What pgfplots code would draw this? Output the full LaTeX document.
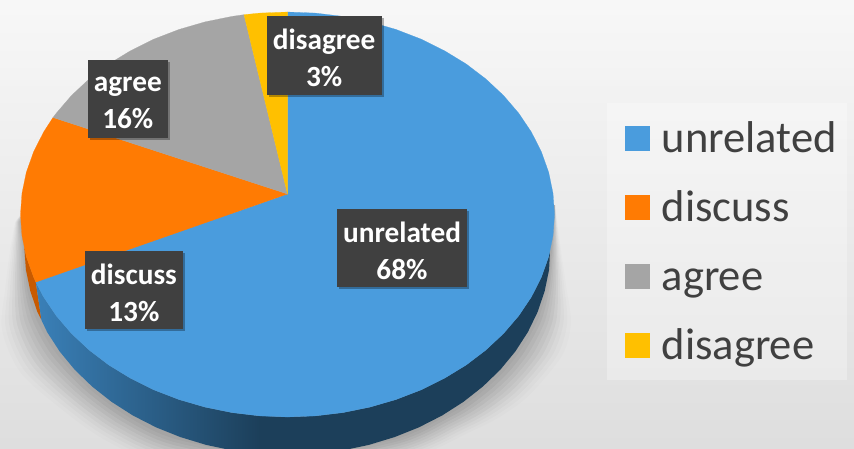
\documentclass[border=0pt]{standalone}
\usepackage{pgfplots}
\pgfplotsset{compat=1.18}
\usepackage{fontspec}
\setmainfont{Carlito}
\usetikzlibrary{shadows}
\definecolor{cUnrel}{HTML}{4A9CDD}
\definecolor{cDisc}{HTML}{FF7B03}
\definecolor{cAgree}{HTML}{A5A5A5}
\definecolor{cDisag}{HTML}{FFC000}
\definecolor{cSideA}{HTML}{3A80B8}
\definecolor{cSideB}{HTML}{1C3F5A}
\definecolor{cDiscSide}{HTML}{C85A00}
\definecolor{cBox}{HTML}{404040}
\tikzset{
  labbox/.style={fill=cBox,inner sep=0pt,
    drop shadow={shadow xshift=2bp,shadow yshift=-2bp,opacity=.3,fill=black}},
  labtext/.style={text=white,inner sep=0pt,align=center,
    font=\fontsize{29.4}{37}\selectfont\bfseries}}
\pgfplotsset{shadowlayer/.style={smooth,draw=none,fill=black,fill opacity=#1,forget plot}}
\begin{document}
\begin{tikzpicture}
\path[use as bounding box] (0,0) rectangle (854bp,449bp);
\begin{axis}[
  scale only axis,width=854bp,height=449bp,
  xmin=0,xmax=854,ymin=0,ymax=449,y dir=reverse,hide axis,
  legend image code/.code={\path[draw=none,fill=none] (0bp,0bp) rectangle (36.5bp,1bp);\fill[#1,draw=none] (0bp,-10.5bp) rectangle (25bp,14.5bp);},
  legend cell align=left,
  legend style={at={(axis cs:625,118)},anchor=north west,draw=none,fill=none,
    font=\fontsize{44.7}{52}\selectfont,text=cBox,inner sep=0pt,
    row sep=25bp,
    nodes={inner sep=0pt,text height=34bp,text depth=10bp}},
]
% background
\addplot[forget plot,draw=none,top color=white!97!black,bottom color=white!87!black] coordinates {(0,0)(854,0)(854,449)(0,449)} -- cycle;
% legend panel
\addplot[forget plot,draw=none,fill=white,fill opacity=.3] coordinates {(607,103)(847,103)(847,380)(607,380)} -- cycle;
% soft shadow layers
\addplot[shadowlayer=.035] coordinates {(555,205)(552,250)(548,285)(537.7,320.2)(519.9,351.1)(504.5,370.8)(487.1,387.4)(466.5,403.6)(444.8,416.7)(395.6,439.1)(287,457.5)(178.5,439.8)(129.3,417.5)(88.8,388.2)(56,353.1)(37.1,321)(27.5,290.9)(23.5,250)(19.5,215.7)};
\addplot[shadowlayer=.035] coordinates {(555,205)(553,250)(550,285)(541.4,320.4)(524.8,351.2)(509,371.6)(491.2,388.8)(470,405.2)(447.6,418.4)(397.2,441.2)(287,460)(177,442.6)(126.6,420)(85.6,390.4)(52,355.2)(33.2,322)(25,290.8)(22,250)(19,216.4)};
\addplot[shadowlayer=.035] coordinates {(555,205)(554,250)(552,285)(545.1,320.6)(529.7,351.3)(513.5,372.4)(495.3,390.2)(473.5,406.8)(450.4,420.1)(398.8,443.3)(287,462.5)(175.5,445.4)(123.9,422.5)(82.4,392.6)(48,357.3)(29.3,323)(22.5,290.7)(20.5,250)(18.5,217.1)};
\addplot[shadowlayer=.035] coordinates {(555,205)(555,250)(554,285)(548.8,320.8)(534.6,351.4)(518,373)(499.4,391.6)(477,408.4)(453.2,421.8)(400.4,445.4)(287,465)(174,448.2)(121.2,425)(79.2,394.8)(44,359.4)(25.4,324)(20,290.4)(19,250)(18,217.8)};
\addplot[shadowlayer=.035] coordinates {(555,205)(556,250)(556,285)(552.5,321)(539.5,351.5)(522.5,374)(503.5,393)(480.5,410)(456,423.5)(402,447.5)(287,467.5)(172.5,451)(118.5,427.5)(76,397)(40,361.5)(21.5,325)(17.5,290.5)(17.5,250)(17.5,218.5)};
\addplot[shadowlayer=.03] coordinates {(555,205)(557,250)(558,285)(556.2,321.2)(544.4,351.6)(527,374.8)(507.6,394.4)(484,411.6)(458.8,425.2)(403.6,449.6)(287,470)(171,453.8)(115.8,430)(72.8,399.2)(36,363.6)(17.6,326)(15,290.2)(16,250)(17,219.2)};
\addplot[shadowlayer=.025] coordinates {(555,205)(558,250)(560,285)(559.9,321.4)(549.3,351.7)(531.5,375.6)(511.7,395.8)(487.5,413.2)(461.6,426.9)(405.2,451.7)(287,472.5)(169.5,456.6)(113.1,432.5)(69.6,401.4)(32,365.7)(13.7,327)(12.5,290.3)(14.5,250)(16.5,219.9)};
\addplot[shadowlayer=.02] coordinates {(555,205)(559,250)(562,285)(563.6,321.6)(554.2,351.8)(536,376.4)(515.8,397.2)(491,414.8)(464.4,428.6)(406.8,453.8)(287,475)(168,459.4)(110.4,435)(66.4,403.6)(28,367.8)(9.8,328)(10,290.2)(13,250)(16,220.6)};
\addplot[shadowlayer=.015] coordinates {(555,205)(560,250)(564,285)(567.3,321.8)(559.1,351.9)(540.5,377.2)(519.9,398.6)(494.5,416.4)(467.2,430.3)(408.4,455.9)(287,477.5)(166.5,462.2)(107.7,437.5)(63.2,405.8)(24,370)(5.9,329)(7.5,290.1)(11.5,250)(15.5,221.3)};
\addplot[shadowlayer=.012] coordinates {(555,205)(561,250)(566,285)(571,322)(564,352)(545,378)(524,400)(498,418)(470,432)(410,458)(287,480)(165,465)(105,440)(60,408)(20,372)(2,330)(5,290)(10,250)(15,222)};
% pie side: discuss
\addplot[forget plot,draw=none,fill=cDiscSide] coordinates {(24.3,247)(26.3,256.6)(33.6,277.1)(35.8,282.1)(41.4,320)(37.4,312)(30.3,291)(25.9,269.6)} -- cycle;
% pie side: unrelated, dark part
\addplot[forget plot,draw=none,fill=cSideB] coordinates {(550,251)(548.7,256.6)(541.4,277.1)(531.4,296.9)(518.7,315.8)(503.5,333.5)(485.9,350)(466.2,365)(444.4,378.3)(421,389.9)(396.1,399.5)(370,407.1)(343,412.6)(315.4,415.9)(287.5,417)(258,415.7)(258,453.8)(287.5,455)(315,453.9)(342.2,450.5)(368.8,444.9)(394.5,437.1)(419,427.3)(442.1,415.5)(463.5,401.8)(482.9,386.5)(500.3,369.7)(515.3,351.5)(527.8,332.2)(537.6,312)(544.7,291)(549.1,269.6)} -- cycle;
% pie side: unrelated, shaded part
\addplot[forget plot,draw=none,left color=cSideA,right color=cSideB] coordinates {(259.6,415.9)(232,412.6)(205,407.1)(178.9,399.5)(154,389.9)(130.6,378.3)(108.8,365)(89.1,350)(71.5,333.5)(56.3,315.8)(43.6,296.9)(35.8,282.1)(41.4,320)(47.2,332.2)(59.7,351.5)(74.7,369.7)(92.1,386.5)(111.5,401.8)(132.9,415.5)(156,427.3)(180.5,437.1)(206.2,444.9)(232.8,450.5)(260,453.9)} -- cycle;
% slices
\addplot[draw=cUnrel,line width=.2pt,fill=cUnrel] coordinates {(287.5,194)(287.5,12)(315.4,13.1)(343,16.4)(370,21.9)(396.1,29.5)(421,39.1)(444.4,50.7)(466.2,64)(485.9,79)(503.5,95.5)(518.7,113.2)(531.4,132.1)(541.4,151.9)(548.7,172.4)(553,193.3)(554.5,214.5)(553,235.7)(548.7,256.6)(541.4,277.1)(531.4,296.9)(518.7,315.8)(503.5,333.5)(485.9,350)(466.2,365)(444.4,378.3)(421,389.9)(396.1,399.5)(370,407.1)(343,412.6)(315.4,415.9)(287.5,417)(259.6,415.9)(232,412.6)(205,407.1)(178.9,399.5)(154,389.9)(130.6,378.3)(108.8,365)(89.1,350)(71.5,333.5)(56.3,315.8)(43.6,296.9)(35.8,282.1)} -- cycle;
\addlegendentry{unrelated}
\addplot[draw=cDisc,line width=.2pt,fill=cDisc] coordinates {(287.5,194)(35.8,282.1)(33.6,277.1)(26.3,256.6)(22,235.7)(20.5,214.5)(22,193.3)(26.3,172.4)(33.6,151.9)(43.6,132.1)(53,117.5)} -- cycle;
\addlegendentry{discuss}
\addplot[draw=cAgree,line width=.2pt,fill=cAgree] coordinates {(287.5,194)(53,117.5)(56.3,113.2)(71.5,95.5)(89.1,79)(108.8,64)(130.6,50.7)(154,39.1)(178.9,29.5)(205,21.9)(232,16.4)(244,14.7)} -- cycle;
\addlegendentry{agree}
\addplot[draw=cDisag,line width=.2pt,fill=cDisag] coordinates {(287.5,194)(244,14.7)(259.6,13.1)(287.5,12)} -- cycle;
\addlegendentry{disagree}
% data labels
\node[labbox,minimum width=115bp,minimum height=78.7bp] at (axis cs:324.2,55.3) {};
\node[labbox,minimum width=79.7bp,minimum height=78.3bp] at (axis cs:127.8,99.2) {};
\node[labbox,minimum width=98.3bp,minimum height=78bp] at (axis cs:133.9,290) {};
\node[labbox,minimum width=130bp,minimum height=78.3bp] at (axis cs:402,248) {};
\node[labtext] at (axis cs:324.2,58) {disagree\\3\%};
\node[labtext] at (axis cs:127.8,103) {agree\\16\%};
\node[labtext] at (axis cs:133.9,292.5) {discuss\\13\%};
\node[labtext] at (axis cs:402,250.5) {unrelated\\68\%};
\end{axis}
\end{tikzpicture}
\end{document}
